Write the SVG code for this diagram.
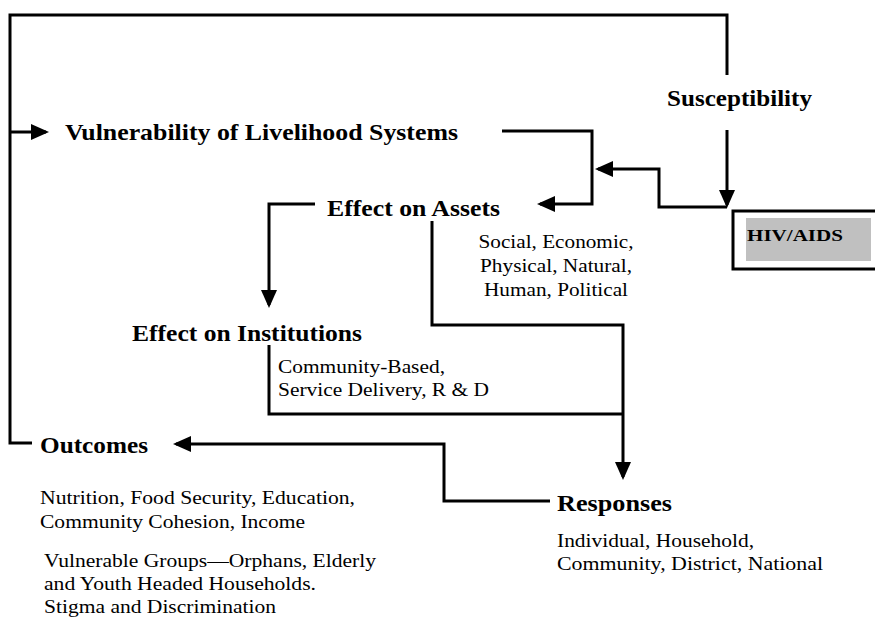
<svg xmlns="http://www.w3.org/2000/svg" width="875" height="618" viewBox="0 0 875 618">
<defs>
<style>
.c{fill:none;stroke:#000;stroke-width:3;stroke-linejoin:miter}
.h{font-family:"Liberation Serif","Times New Roman",serif;font-weight:bold;font-size:23px;fill:#000}
.t{font-family:"Liberation Serif","Times New Roman",serif;font-size:18px;fill:#000}
</style>
<marker id="ah" viewBox="0 0 18 16" refX="15" refY="8" markerWidth="18" markerHeight="16" markerUnits="userSpaceOnUse" orient="auto">
<path d="M0,0 L18,8 L0,16 z" fill="#000"/>
</marker>
</defs>
<rect width="875" height="618" fill="#fff"/>
<g id="connectors">
<path class="c" d="M727,75 V15 H10 V443 H32"/>
<path class="c" d="M10,132 H46" marker-end="url(#ah)"/>
<path class="c" d="M727,130 V205" marker-end="url(#ah)"/>
<path class="c" d="M727,207 H659 V169 H598" marker-end="url(#ah)"/>
<path class="c" d="M502,131 H592 V204 H540" marker-end="url(#ah)"/>
<path class="c" d="M315,204 H269 V305" marker-end="url(#ah)"/>
<path class="c" d="M432,221 V325 H623 V477" marker-end="url(#ah)"/>
<path class="c" d="M269,345 V414 H623"/>
<path class="c" d="M550,501 H444 V444 H176" marker-end="url(#ah)"/>
</g>
<g id="susceptibility"><text class="h" x="667" y="106" textLength="145" lengthAdjust="spacingAndGlyphs">Susceptibility</text></g>
<g id="hivaids">
<rect x="733" y="211" width="150" height="58" fill="#fff" stroke="#000" stroke-width="3"/>
<rect x="746" y="218" width="125" height="43" fill="#c0c0c0"/>
<text class="h" x="747" y="241" textLength="96" lengthAdjust="spacingAndGlyphs" style="font-size:17px">HIV/AIDS</text>
</g>
<g id="vulnerability"><text class="h" x="65" y="140" textLength="393" lengthAdjust="spacingAndGlyphs">Vulnerability of Livelihood Systems</text></g>
<g id="assets">
<text class="h" x="327" y="216" textLength="173" lengthAdjust="spacingAndGlyphs">Effect on Assets</text>
<text class="t" x="556" y="248" text-anchor="middle" textLength="155" lengthAdjust="spacingAndGlyphs">Social, Economic,</text>
<text class="t" x="556" y="272" text-anchor="middle" textLength="152" lengthAdjust="spacingAndGlyphs">Physical, Natural,</text>
<text class="t" x="556" y="296" text-anchor="middle" textLength="144" lengthAdjust="spacingAndGlyphs">Human, Political</text>
</g>
<g id="institutions">
<text class="h" x="132" y="341" textLength="230" lengthAdjust="spacingAndGlyphs">Effect on Institutions</text>
<text class="t" x="278" y="373" textLength="167" lengthAdjust="spacingAndGlyphs">Community-Based,</text>
<text class="t" x="278" y="396" textLength="211" lengthAdjust="spacingAndGlyphs">Service Delivery, R &amp; D</text>
</g>
<g id="outcomes">
<text class="h" x="40" y="453" textLength="108" lengthAdjust="spacingAndGlyphs">Outcomes</text>
<text class="t" x="40" y="504" textLength="315" lengthAdjust="spacingAndGlyphs">Nutrition, Food Security, Education,</text>
<text class="t" x="40" y="528" textLength="265" lengthAdjust="spacingAndGlyphs">Community Cohesion, Income</text>
<text class="t" x="44" y="567" textLength="332" lengthAdjust="spacingAndGlyphs">Vulnerable Groups—Orphans, Elderly</text>
<text class="t" x="44" y="590" textLength="272" lengthAdjust="spacingAndGlyphs">and Youth Headed Households.</text>
<text class="t" x="44" y="613" textLength="232" lengthAdjust="spacingAndGlyphs">Stigma and Discrimination</text>
</g>
<g id="responses">
<text class="h" x="557" y="511" textLength="115" lengthAdjust="spacingAndGlyphs">Responses</text>
<text class="t" x="557" y="547" textLength="197" lengthAdjust="spacingAndGlyphs">Individual, Household,</text>
<text class="t" x="557" y="570" textLength="266" lengthAdjust="spacingAndGlyphs">Community, District, National</text>
</g>
</svg>
